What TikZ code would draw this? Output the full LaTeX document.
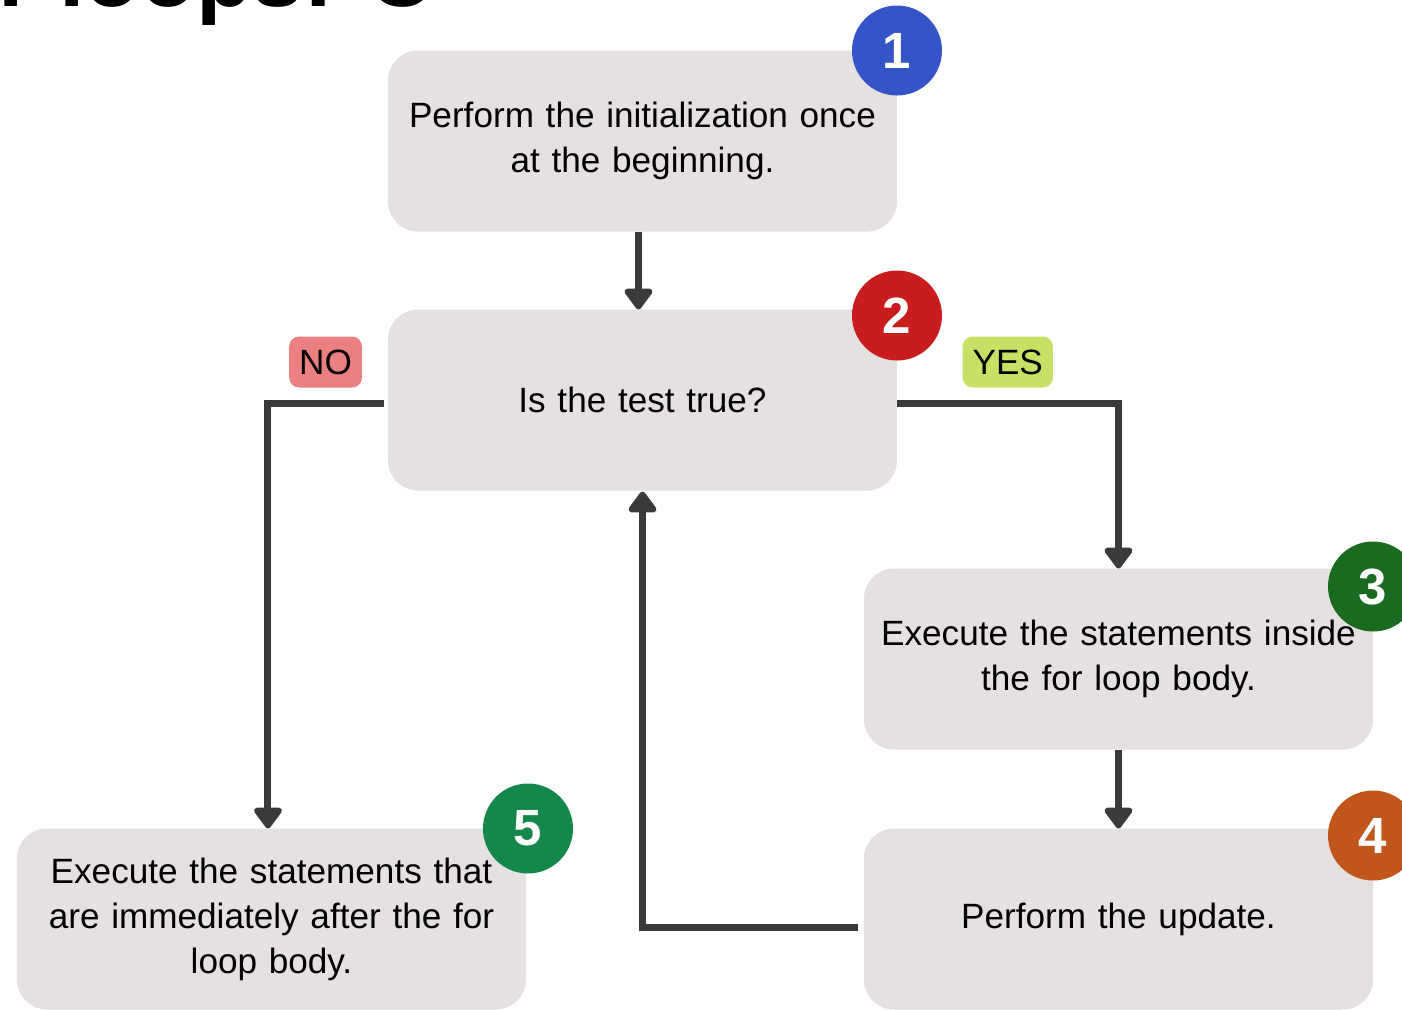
\documentclass[tikz,border=0pt]{standalone}
\usepackage{fontspec}
\setmainfont{Liberation Sans}
\usepackage{tikz}
\usetikzlibrary{arrows.meta,positioning}

\definecolor{boxgray}{HTML}{E4E1E0}
\definecolor{linegray}{HTML}{3A3A38}
\definecolor{badgeblue}{HTML}{3454C8}
\definecolor{badgered}{HTML}{C81C1E}
\definecolor{badgegreen}{HTML}{1A6B1F}
\definecolor{badgeorange}{HTML}{C0561A}
\definecolor{badgeteal}{HTML}{14884A}
\definecolor{nored}{HTML}{EC8080}
\definecolor{yesgreen}{HTML}{C8E164}

\begin{document}
\begin{tikzpicture}[
    >={Triangle[width=0.32cm,length=0.23cm,round]}, % arrow head style
    node distance = 0.78cm, % distance between boxes
    line width = 0.07cm, % connector style
    line join = miter
    ]

    \tikzset{stepbox/.style={
    fill = boxgray,
    rounded corners = 0.3cm,
    outer sep = 0pt,
    minimum width = 5.09cm,
    minimum height = 1.81cm,
    text width = 4.8cm,
    inner xsep = 0.1cm,
    align = center,
    font = \fontsize{10}{12.8}\selectfont
    }}
    \tikzset{badge/.style={
    circle,
    fill = #1,
    minimum size = 0.9cm,
    inner sep = 0pt,
    text = white,
    font = \fontsize{14.5}{14.5}\selectfont\bfseries
    }}
    \tikzset{answer/.style={
    fill = #1,
    rounded corners = 0.1cm,
    minimum height = 0.51cm,
    inner xsep = 0.1cm,
    line width = 0pt,
    font = \fontsize{10}{12}\selectfont
    }}
    \tikzset{flow/.style={->, draw = linegray}}

    \useasboundingbox (-6.425,1.41) rectangle (7.595,-8.68);
    \clip (-6.425,1.41) rectangle (7.595,-8.68);

    % title, cut off at the top
    \node[anchor=base east, inner sep=0pt, font=\fontsize{26}{26}\selectfont\bfseries]
        (title) at (-2.055,1.35) {for loops: C};

    \node[stepbox] (init) {Perform the initialization once\\at the beginning.};
    \node[stepbox] (test) [below=of init] {Is the test true?};
    \node[stepbox] (body) [below=of test, xshift=4.76cm] {Execute the statements inside\\the for loop body.};
    \node[stepbox] (update) [below=0.79cm of body] {Perform the update.};
    \node[stepbox] (after) [left=3.38cm of update] {Execute the statements that\\are immediately after the for\\loop body.};

    \node[badge=badgeblue] (b1) at (init.north east) {1};
    \node[badge=badgered] (b2) at ([yshift=-0.06cm]test.north east) {2};
    \node[badge=badgegreen] (b3) at ([yshift=-0.18cm]body.north east) {3};
    \node[badge=badgeorange] (b4) at ([yshift=-0.07cm]update.north east) {4};
    \node[badge=badgeteal] (b5) at ([xshift=0.02cm]after.north east) {5};

    \draw[flow] ([xshift=-0.04cm]init.south) -- ([xshift=-0.04cm]test.north);
    \draw[flow, shorten <=0.04cm] ([yshift=-0.035cm]test.west) -| node[pos=0.26, above=0.16cm, answer=nored]{NO} ([xshift=-0.035cm]after.north);
    \draw[flow] ([yshift=-0.035cm]test.east) -| node[pos=0.25, above=0.16cm, answer=yesgreen]{YES} (body.north);
    \draw[flow] (body.south) -- (update.north);
    \draw[flow, shorten <=0.06cm] ([yshift=-0.08cm]update.west) -| ([yshift=-0.01cm]test.south);
\end{tikzpicture}
\end{document}
